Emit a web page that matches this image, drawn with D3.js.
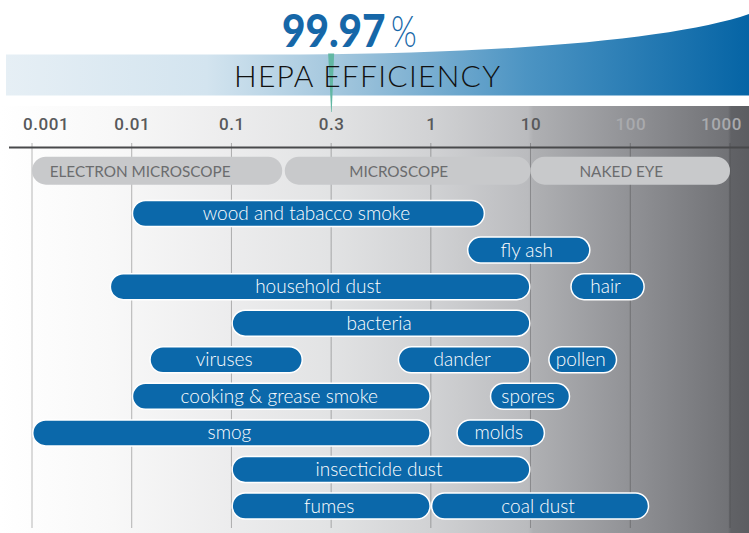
<!DOCTYPE html>
<html>
<head>
<meta charset="utf-8">
<script src="https://cdn.jsdelivr.net/npm/d3@7"></script>
<style>
  html, body { margin: 0; padding: 0; background: #fff; }
  svg { display: block; }
</style>
</head>
<body>
<svg id="chart" width="749" height="533"></svg>
<script>
// ---- data ----
const tickValues = [0.001, 0.01, 0.1, 0.3, 1, 10, 100, 1000];
const tickLabels = ["0.001", "0.01", "0.1", "0.3", "1", "10", "100", "1000"];
const headline = "99.97";
const headlineUnit = "%";
const subtitle = "HEPA EFFICIENCY";
const markerValue = 0.3;

const categories = ["ELECTRON MICROSCOPE", "MICROSCOPE", "NAKED EYE"];
const categoryMin = [0.001, 0.18, 10];
const categoryMax = [0.175, 10, 1000];

const particles = ["wood and tabacco smoke", "fly ash", "household dust", "hair", "bacteria",
  "viruses", "dander", "pollen", "cooking & grease smoke", "spores", "smog", "molds",
  "insecticide dust", "fumes", "coal dust"];
const sizeMin = [0.01, 2.3, 0.006, 25, 0.1, 0.015, 0.67, 15, 0.01, 3.9, 0.001, 1.8, 0.1, 0.1, 1];
const sizeMax = [3.5, 40, 10, 140, 10, 0.22, 10, 74, 1, 25, 1, 14, 10, 1, 155];
const rowOf = [0, 1, 2, 2, 3, 4, 4, 4, 5, 5, 6, 6, 7, 8, 8];

// ---- layout ----
const W = 749, H = 533;
const svg = d3.select("#chart");
const defs = svg.append("defs");

const xLeft = 32, xRight = 730;
const x = d3.scaleLinear()
  .domain(tickValues.map(Math.log10))
  .range(tickValues.map((d, i) => xLeft + i * (xRight - xLeft) / (tickValues.length - 1)));
const X = v => x(Math.log10(v));

const rows = d3.range(d3.max(rowOf) + 1);
const y = d3.scalePoint().domain(rows).range([213.5, 506]);
const barH = 27.5;

// ---- background gradient (grey) ----
const gGrad = defs.append("linearGradient").attr("id", "greyGrad")
  .attr("x1", 0).attr("x2", 1).attr("y1", 0).attr("y2", 0);
[[0, "#ffffff"], [0.15, "#f8f8f8"], [0.31, "#ececed"], [0.44, "#e2e3e4"], [0.575, "#d1d2d4"],
 [0.705, "#babbbe"], [0.712, "#afb0b3"], [0.84, "#919296"], [0.972, "#717276"],
 [0.976, "#616266"], [1, "#5c5d61"]]
  .forEach(([o, c]) => gGrad.append("stop").attr("offset", o).attr("stop-color", c));
svg.append("rect").attr("x", 0).attr("y", 106).attr("width", W).attr("height", H - 106)
  .attr("fill", "url(#greyGrad)");

// ---- header band ----
const bGrad = defs.append("linearGradient").attr("id", "blueGrad")
  .attr("gradientUnits", "userSpaceOnUse")
  .attr("x1", 6).attr("x2", W).attr("y1", 0).attr("y2", 0);
[[0, "#e6eff5"], [0.27, "#d3e4ef"], [0.45, "#a2c6dd"], [0.7, "#4c94c3"], [1, "#0564a5"]]
  .forEach(([o, c]) => bGrad.append("stop").attr("offset", o).attr("stop-color", c));
svg.append("path")
  .attr("d", "M6,54.5 L300,54.5 C520,53 680,38 749,14 L749,95.5 L6,95.5 Z")
  .attr("fill", "url(#blueGrad)");

// marker needle
const mx = X(markerValue);
svg.append("path")
  .attr("d", `M${mx - 3},53.5 L${mx + 3},53.5 L${mx + 0.6},112 L${mx},112 Z`)
  .attr("fill", "#62b7a3");

svg.append("g").attr("transform", "translate(282,46.5) scale(0.88,1)")
  .append("text").attr("x", 0).attr("y", 0)
  .attr("font-family", "Lato").attr("font-weight", 900).attr("font-size", 46)
  .attr("fill", "#1667a8")
  .text(headline);
svg.append("g").attr("transform", "translate(391,46.5) scale(0.75,1)")
  .append("text").attr("x", 0).attr("y", 0)
  .attr("font-family", "Lato").attr("font-weight", 300).attr("font-size", 44)
  .attr("fill", "#1667a8")
  .text(headlineUnit);

svg.append("text").attr("x", 234).attr("y", 87.3)
  .attr("font-family", "Lato").attr("font-weight", 300).attr("font-size", 30)
  .attr("fill", "#111").attr("textLength", 266).attr("lengthAdjust", "spacing")
  .text(subtitle);

// ---- grid lines ----
svg.append("g").selectAll("line").data(tickValues).join("line")
  .attr("x1", d => X(d)).attr("x2", d => X(d))
  .attr("y1", 143).attr("y2", 528)
  .attr("stroke", "#333").attr("stroke-opacity", 0.35).attr("stroke-width", 1);

// axis line
svg.append("line").attr("x1", 9).attr("x2", W).attr("y1", 147.5).attr("y2", 147.5)
  .attr("stroke", "#48494b").attr("stroke-width", 2);

// axis labels
const axis = d3.axisTop(x).tickValues(tickValues.map(Math.log10))
  .tickFormat((d, i) => tickLabels[i]).tickSize(0).tickPadding(0);
const axG = svg.append("g").attr("transform", "translate(0,130)").call(axis);
axG.select(".domain").remove();
axG.selectAll("text")
  .attr("dy", 0)
  .attr("font-family", "Roboto").attr("font-weight", 500).attr("font-size", 17)
  .attr("letter-spacing", 0.6)
  .attr("fill", (d, i) => i >= 6 ? "#a9aaad" : "#58595b")
  .attr("text-anchor", (d, i) => i === 0 ? "start" : (i === tickValues.length - 1 ? "end" : "middle"))
  .attr("x", (d, i) => i === 0 ? -9.5 : (i === tickValues.length - 1 ? 11.5 : 0));

// ---- category pills ----
const catG = svg.append("g");
categories.forEach((c, i) => {
  const x0 = X(categoryMin[i]), x1 = X(categoryMax[i]);
  catG.append("rect")
    .attr("x", x0).attr("y", 156.7).attr("width", x1 - x0).attr("height", 28)
    .attr("rx", 14).attr("fill", "#c8c9cb");
  catG.append("text")
    .attr("x", (x0 + x1) / 2 - (i === 0 ? 17 : 9)).attr("y", 176.8)
    .attr("text-anchor", "middle")
    .attr("font-family", "Lato").attr("font-size", 15.3).attr("fill", "#6b6c6e")
    .text(c);
});

// ---- particle bars ----
const barG = svg.append("g");
const bars = barG.selectAll("g").data(particles).join("g");
bars.append("rect")
  .attr("x", (d, i) => X(sizeMin[i]) + 0.75)
  .attr("y", (d, i) => y(rowOf[i]) - barH / 2 + 0.75)
  .attr("width", (d, i) => X(sizeMax[i]) - X(sizeMin[i]) - 1.5)
  .attr("height", barH - 1.5)
  .attr("rx", (barH - 1.5) / 2)
  .attr("fill", "#0b68aa").attr("stroke", "#ffffff").attr("stroke-width", 1.5);
bars.append("text")
  .attr("x", (d, i) => (X(sizeMin[i]) + X(sizeMax[i])) / 2 - 2)
  .attr("y", (d, i) => y(rowOf[i]) + 6.5)
  .attr("text-anchor", "middle")
  .attr("font-family", "Lato").attr("font-weight", 300).attr("font-size", 19)
  .attr("fill", "#ffffff")
  .text(d => d);
</script>
</body>
</html>
